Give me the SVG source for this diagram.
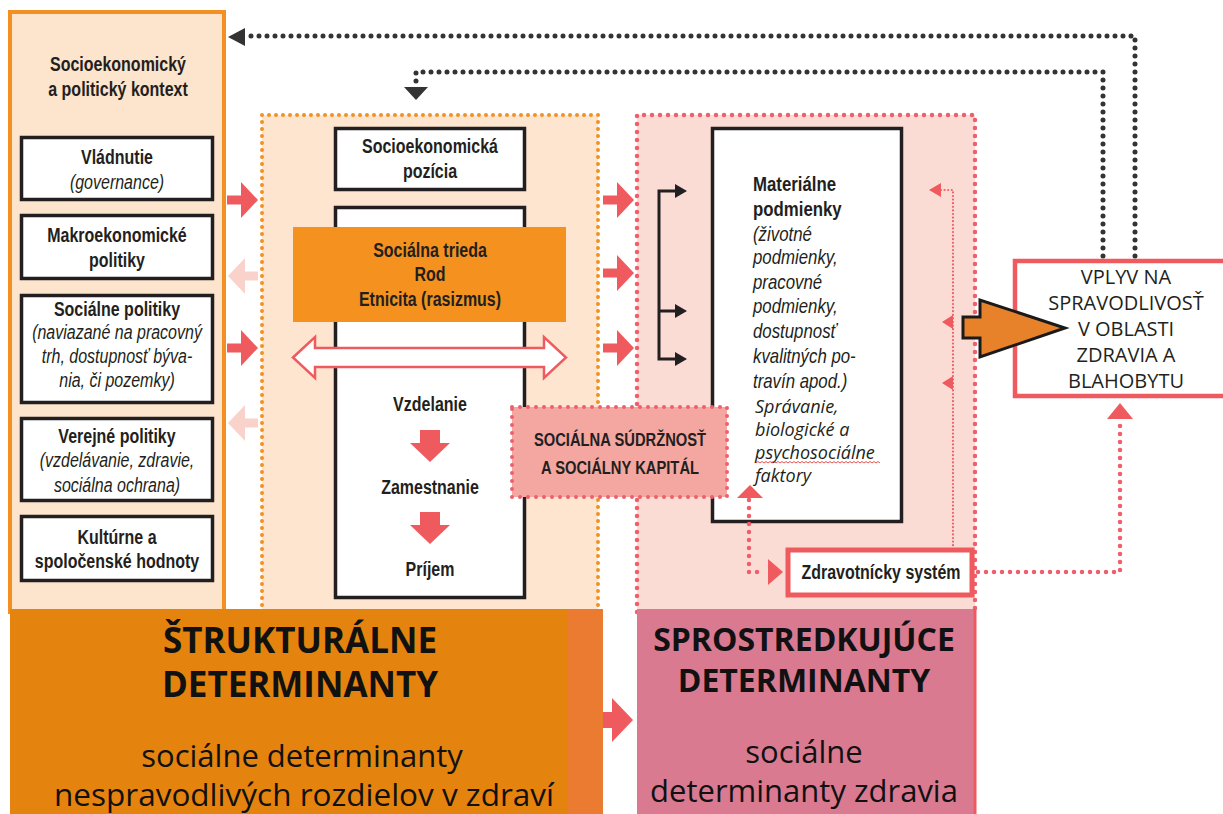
<svg xmlns="http://www.w3.org/2000/svg" width="1223" height="814" viewBox="0 0 1223 814">
  <style>
    .nb { font-family: "Liberation Sans", Arial, sans-serif; font-weight: bold; font-size: 19.5px; fill: #231f20; text-anchor: middle; }
    .ni { font-family: "Liberation Sans", Arial, sans-serif; font-style: italic; font-size: 19.5px; fill: #231f20; text-anchor: middle; }
    .st { text-anchor: start; font-size: 20.5px; }
    .oi { font-family: "Open Sans", "Liberation Sans", sans-serif; font-style: italic; font-size: 18px; fill: #231f20; }
    .box { fill: #ffffff; stroke: #231f20; stroke-width: 3.5; }
    .dotDark { fill: none; stroke: #333333; stroke-width: 5; stroke-dasharray: 0 8; stroke-linecap: round; }
    .dotOrange { fill: none; stroke: #f29020; stroke-width: 4; stroke-dasharray: 0 7; stroke-linecap: round; }
    .dotPink { fill: none; stroke: #ee5f6b; stroke-width: 4.5; stroke-dasharray: 0 8; stroke-linecap: round; }
    .dotThin { fill: none; stroke: #ee5f6b; stroke-width: 2.2; stroke-dasharray: 0 3.6; stroke-linecap: round; }
    .red { fill: #ef5a5f; }
    .pale { fill: #f9d2cb; }
    .dark { fill: #333333; }
    .big { font-family: "Open Sans", "Liberation Sans", sans-serif; fill: #111111; text-anchor: middle; }
    .vp { font-family: "Open Sans", "Liberation Sans", sans-serif; font-size: 20px; fill: #231f20; text-anchor: middle; }
  </style>
  <defs>
    <path id="arrowRight" d="M0,-4.5 H14 V-18 L31,0 L14,18 V4.5 H0 Z"/>
    <path id="arrowLeft" d="M30,-4.5 H17 V-18 L0,0 L17,18 V4.5 H30 Z"/>
    <path id="arrowDown" d="M-10,0 H10 V13 H20 L0,32 L-20,13 H-10 Z"/>
    <path id="headBlack" d="M-12,-7 L0,0 L-12,7 Z"/>
  </defs>

  <!-- socio-economic and political context panel -->
  <g id="context">
    <rect x="10" y="12" width="214" height="600" fill="#fde4cc" stroke="#f39021" stroke-width="4"/>
    <g transform="translate(118 0) scale(0.82 1)">
      <text class="nb" x="0" y="71">Socioekonomický</text>
      <text class="nb" x="0" y="96">a politický kontext</text>
    </g>
  </g>
  <g id="governance">
    <rect class="box" x="21.5" y="137.5" width="191" height="62"/>
    <g transform="translate(117 0) scale(0.82 1)">
      <text class="nb" x="0" y="164">Vládnutie</text>
      <text class="ni" x="0" y="189">(governance)</text>
    </g>
  </g>
  <g id="macro">
    <rect class="box" x="21.5" y="215.5" width="191" height="63"/>
    <g transform="translate(117 0) scale(0.82 1)">
      <text class="nb" x="0" y="242">Makroekonomické</text>
      <text class="nb" x="0" y="267">politiky</text>
    </g>
  </g>
  <g id="social-policy">
    <rect class="box" x="21.5" y="295.5" width="191" height="107"/>
    <g transform="translate(117 0) scale(0.82 1)">
      <text class="nb" x="0" y="316">Sociálne politiky</text>
      <text class="ni" x="0" y="339">(naviazané na pracovný</text>
      <text class="ni" x="0" y="363">trh, dostupnosť býva-</text>
      <text class="ni" x="0" y="387">nia, či pozemky)</text>
    </g>
  </g>
  <g id="public-policy">
    <rect class="box" x="21.5" y="418.5" width="191" height="82"/>
    <g transform="translate(117 0) scale(0.82 1)">
      <text class="nb" x="0" y="443">Verejné politiky</text>
      <text class="ni" x="0" y="467">(vzdelávanie, zdravie,</text>
      <text class="ni" x="0" y="492">sociálna ochrana)</text>
    </g>
  </g>
  <g id="culture">
    <rect class="box" x="21.5" y="516.5" width="191" height="64"/>
    <g transform="translate(117 0) scale(0.82 1)">
      <text class="nb" x="0" y="544">Kultúrne a</text>
      <text class="nb" x="0" y="568">spoločenské hodnoty</text>
    </g>
  </g>

  <!-- socio-economic position panel -->
  <g id="position-panel">
    <rect x="262" y="115" width="336" height="500" fill="#fde5cf"/>
    <path class="dotOrange" d="M262,612 V115 H598 V612"/>
  </g>
  <g id="position">
    <rect class="box" x="335.5" y="128.5" width="189" height="61"/>
    <g transform="translate(430 0) scale(0.82 1)">
      <text class="nb" x="0" y="153">Socioekonomická</text>
      <text class="nb" x="0" y="178">pozícia</text>
    </g>
  </g>
  <g id="position-column">
    <rect class="box" x="335.5" y="207.5" width="189" height="390"/>
    <g transform="translate(430 0) scale(0.82 1)">
      <text class="nb" x="0" y="411">Vzdelanie</text>
      <text class="nb" x="0" y="494">Zamestnanie</text>
      <text class="nb" x="0" y="576">Príjem</text>
    </g>
  </g>
  <g id="class-gender">
    <rect x="293" y="227" width="273" height="95" fill="#f5911e"/>
    <g transform="translate(430 0) scale(0.82 1)">
      <text class="nb" x="0" y="257">Sociálna trieda</text>
      <text class="nb" x="0" y="281">Rod</text>
      <text class="nb" x="0" y="306">Etnicita (rasizmus)</text>
    </g>
  </g>

  <!-- intermediary determinants panel -->
  <g id="intermediary-panel">
    <rect x="637" y="115" width="338" height="500" fill="#fbdcd5"/>
    <path class="dotPink" d="M637,612 V115 H975 V612"/>
  </g>
  <g id="material">
    <rect class="box" x="712.5" y="128.5" width="189" height="393"/>
    <g transform="translate(753 0) scale(0.82 1)">
      <text class="nb st" x="0" y="191">Materiálne</text>
      <text class="nb st" x="0" y="216">podmienky</text>
      <text class="ni st" x="0" y="241">(životné</text>
      <text class="ni st" x="0" y="264">podmienky,</text>
      <text class="ni st" x="0" y="289">pracovné</text>
      <text class="ni st" x="0" y="313">podmienky,</text>
      <text class="ni st" x="0" y="338">dostupnosť</text>
      <text class="ni st" x="0" y="363">kvalitných po-</text>
      <text class="ni st" x="0" y="388">travín apod.)</text>
    </g>
    <text class="oi" x="755" y="413">Správanie,</text>
    <text class="oi" x="755" y="436">biologické a</text>
    <text class="oi" x="755" y="459">psychosociálne</text>
    <text class="oi" x="755" y="482">faktory</text>
    <path d="M756,463 l2,-1.5 l2,1.5 l2,-1.5 l2,1.5 l2,-1.5 l2,1.5 l2,-1.5 l2,1.5 l2,-1.5 l2,1.5 l2,-1.5 l2,1.5 l2,-1.5 l2,1.5 l2,-1.5 l2,1.5 l2,-1.5 l2,1.5 l2,-1.5 l2,1.5 l2,-1.5 l2,1.5 l2,-1.5 l2,1.5 l2,-1.5 l2,1.5 l2,-1.5 l2,1.5 l2,-1.5 l2,1.5 l2,-1.5 l2,1.5 l2,-1.5 l2,1.5 l2,-1.5 l2,1.5 l2,-1.5 l2,1.5 l2,-1.5 l2,1.5 l2,-1.5 l2,1.5 l2,-1.5 l2,1.5 l2,-1.5 l2,1.5 l2,-1.5 l2,1.5 l2,-1.5 l2,1.5 l2,-1.5 l2,1.5 l2,-1.5 l2,1.5 l2,-1.5 l2,1.5 l2,-1.5 l2,1.5 l2,-1.5 l2,1.5 l2,-1.5 l2,1.5" fill="none" stroke="#e04040" stroke-width="0.9"/>
  </g>

  <!-- bottom summary blocks -->
  <g id="structural">
    <rect x="10" y="609" width="558" height="205" fill="#e5830f"/>
    <rect x="568" y="609" width="35" height="205" fill="#ea7b30"/>
    <text class="big" x="300" y="653" style="font-weight:bold;font-size:35px">ŠTRUKTURÁLNE</text>
    <text class="big" x="300" y="697" style="font-weight:bold;font-size:35px">DETERMINANTY</text>
    <text class="big" x="302" y="767" style="font-size:31px">sociálne determinanty</text>
    <text class="big" x="304" y="806" style="font-size:31.5px">nespravodlivých rozdielov v zdraví</text>
  </g>
  <g id="intermediary">
    <rect x="637" y="609" width="338" height="205" fill="#d97a91"/>
    <line x1="975" y1="609" x2="975" y2="814" stroke="#ef5a5f" stroke-width="3"/>
    <text class="big" x="804" y="651" style="font-weight:bold;font-size:32px">SPROSTREDKUJÚCE</text>
    <text class="big" x="804" y="692" style="font-weight:bold;font-size:32px">DETERMINANTY</text>
    <text class="big" x="804" y="763" style="font-size:31px">sociálne</text>
    <text class="big" x="804" y="802" style="font-size:31px">determinanty zdravia</text>
  </g>

  <!-- social cohesion -->
  <g id="cohesion">
    <rect x="512" y="407" width="215" height="90" fill="#f4a7a1"/>
    <rect class="dotPink" x="512" y="407" width="215" height="90" style="stroke-width:4"/>
    <g transform="translate(620 0) scale(0.82 1)">
      <text class="nb" x="0" y="446" style="font-size:18px">SOCIÁLNA SÚDRŽNOSŤ</text>
      <text class="nb" x="0" y="474" style="font-size:18px">A SOCIÁLNY KAPITÁL</text>
    </g>
  </g>

  <!-- health system -->
  <g id="health-system">
    <rect x="788" y="550" width="184" height="45" fill="#ffffff" stroke="#ef5a5f" stroke-width="5"/>
    <g transform="translate(881 0) scale(0.82 1)">
      <text class="nb" x="0" y="579">Zdravotnícky systém</text>
    </g>
  </g>

  <!-- impact on equity -->
  <g id="impact">
    <rect x="1015" y="261" width="215" height="135" fill="#ffffff" stroke="#ef5a5f" stroke-width="4.5"/>
    <text class="vp" x="1126" y="284">VPLYV NA</text>
    <text class="vp" x="1126" y="310">SPRAVODLIVOSŤ</text>
    <text class="vp" x="1126" y="336">V OBLASTI</text>
    <text class="vp" x="1126" y="362">ZDRAVIA A</text>
    <text class="vp" x="1126" y="388">BLAHOBYTU</text>
  </g>

  <!-- connectors -->
  <g id="connectors">
    <use href="#arrowRight" class="red" x="227" y="200"/>
    <use href="#arrowLeft" class="pale" x="228" y="276"/>
    <use href="#arrowRight" class="red" x="227" y="348"/>
    <use href="#arrowLeft" class="pale" x="228" y="423"/>

    <use href="#arrowRight" class="red" x="603" y="200"/>
    <use href="#arrowRight" class="red" x="603" y="273"/>
    <use href="#arrowRight" class="red" x="603" y="348"/>

    <path class="red" d="M603,712 H612 V698 L633,720 L612,742 V728 H603 Z"/>

    <path d="M293,357.5 L315,337 V348 H544 V337 L566,357.5 L544,378 V367 H315 V378 Z" fill="#ffffff" stroke="#ef5a5f" stroke-width="2.5"/>

    <use href="#arrowDown" class="red" x="430" y="430"/>
    <use href="#arrowDown" class="red" x="430" y="512"/>

    <path d="M684,191 H659 V359 H684 M659,311 H684" fill="none" stroke="#231f20" stroke-width="3"/>
    <use href="#headBlack" fill="#231f20" x="687" y="191"/>
    <use href="#headBlack" fill="#231f20" x="687" y="311"/>
    <use href="#headBlack" fill="#231f20" x="687" y="359"/>

    <path d="M963,317 H980 V300 L1065,328 L980,357 V338 H963 Z" fill="#e8822a" stroke="#1a1a1a" stroke-width="3" stroke-linejoin="miter"/>

    <path class="dotDark" d="M1135,256 V36 H250"/>
    <path class="dark" d="M228,37 L245,28 L245,46 Z"/>
    <path class="dotDark" d="M1103,256 V72 H416 V84"/>
    <path class="dark" d="M404,87 L428,87 L416,100 Z"/>

    <path class="dotThin" d="M941,190 H953 V548"/>
    <path class="red" d="M929,190 L941,183 L941,197 Z"/>
    <path class="red" d="M942,322 L953,315 L953,329 Z"/>
    <path class="red" d="M942,383 L953,376 L953,390 Z"/>

    <path class="dotPink" d="M749,500 V572 H764"/>
    <path class="red" d="M737,498 L763,498 L750,485 Z"/>
    <path class="red" d="M768,559 L783,572 L768,585 Z"/>

    <path class="dotPink" d="M978,572 H1120 V422"/>
    <path class="red" d="M1107,419 L1133,419 L1120,403 Z"/>
  </g>
</svg>
